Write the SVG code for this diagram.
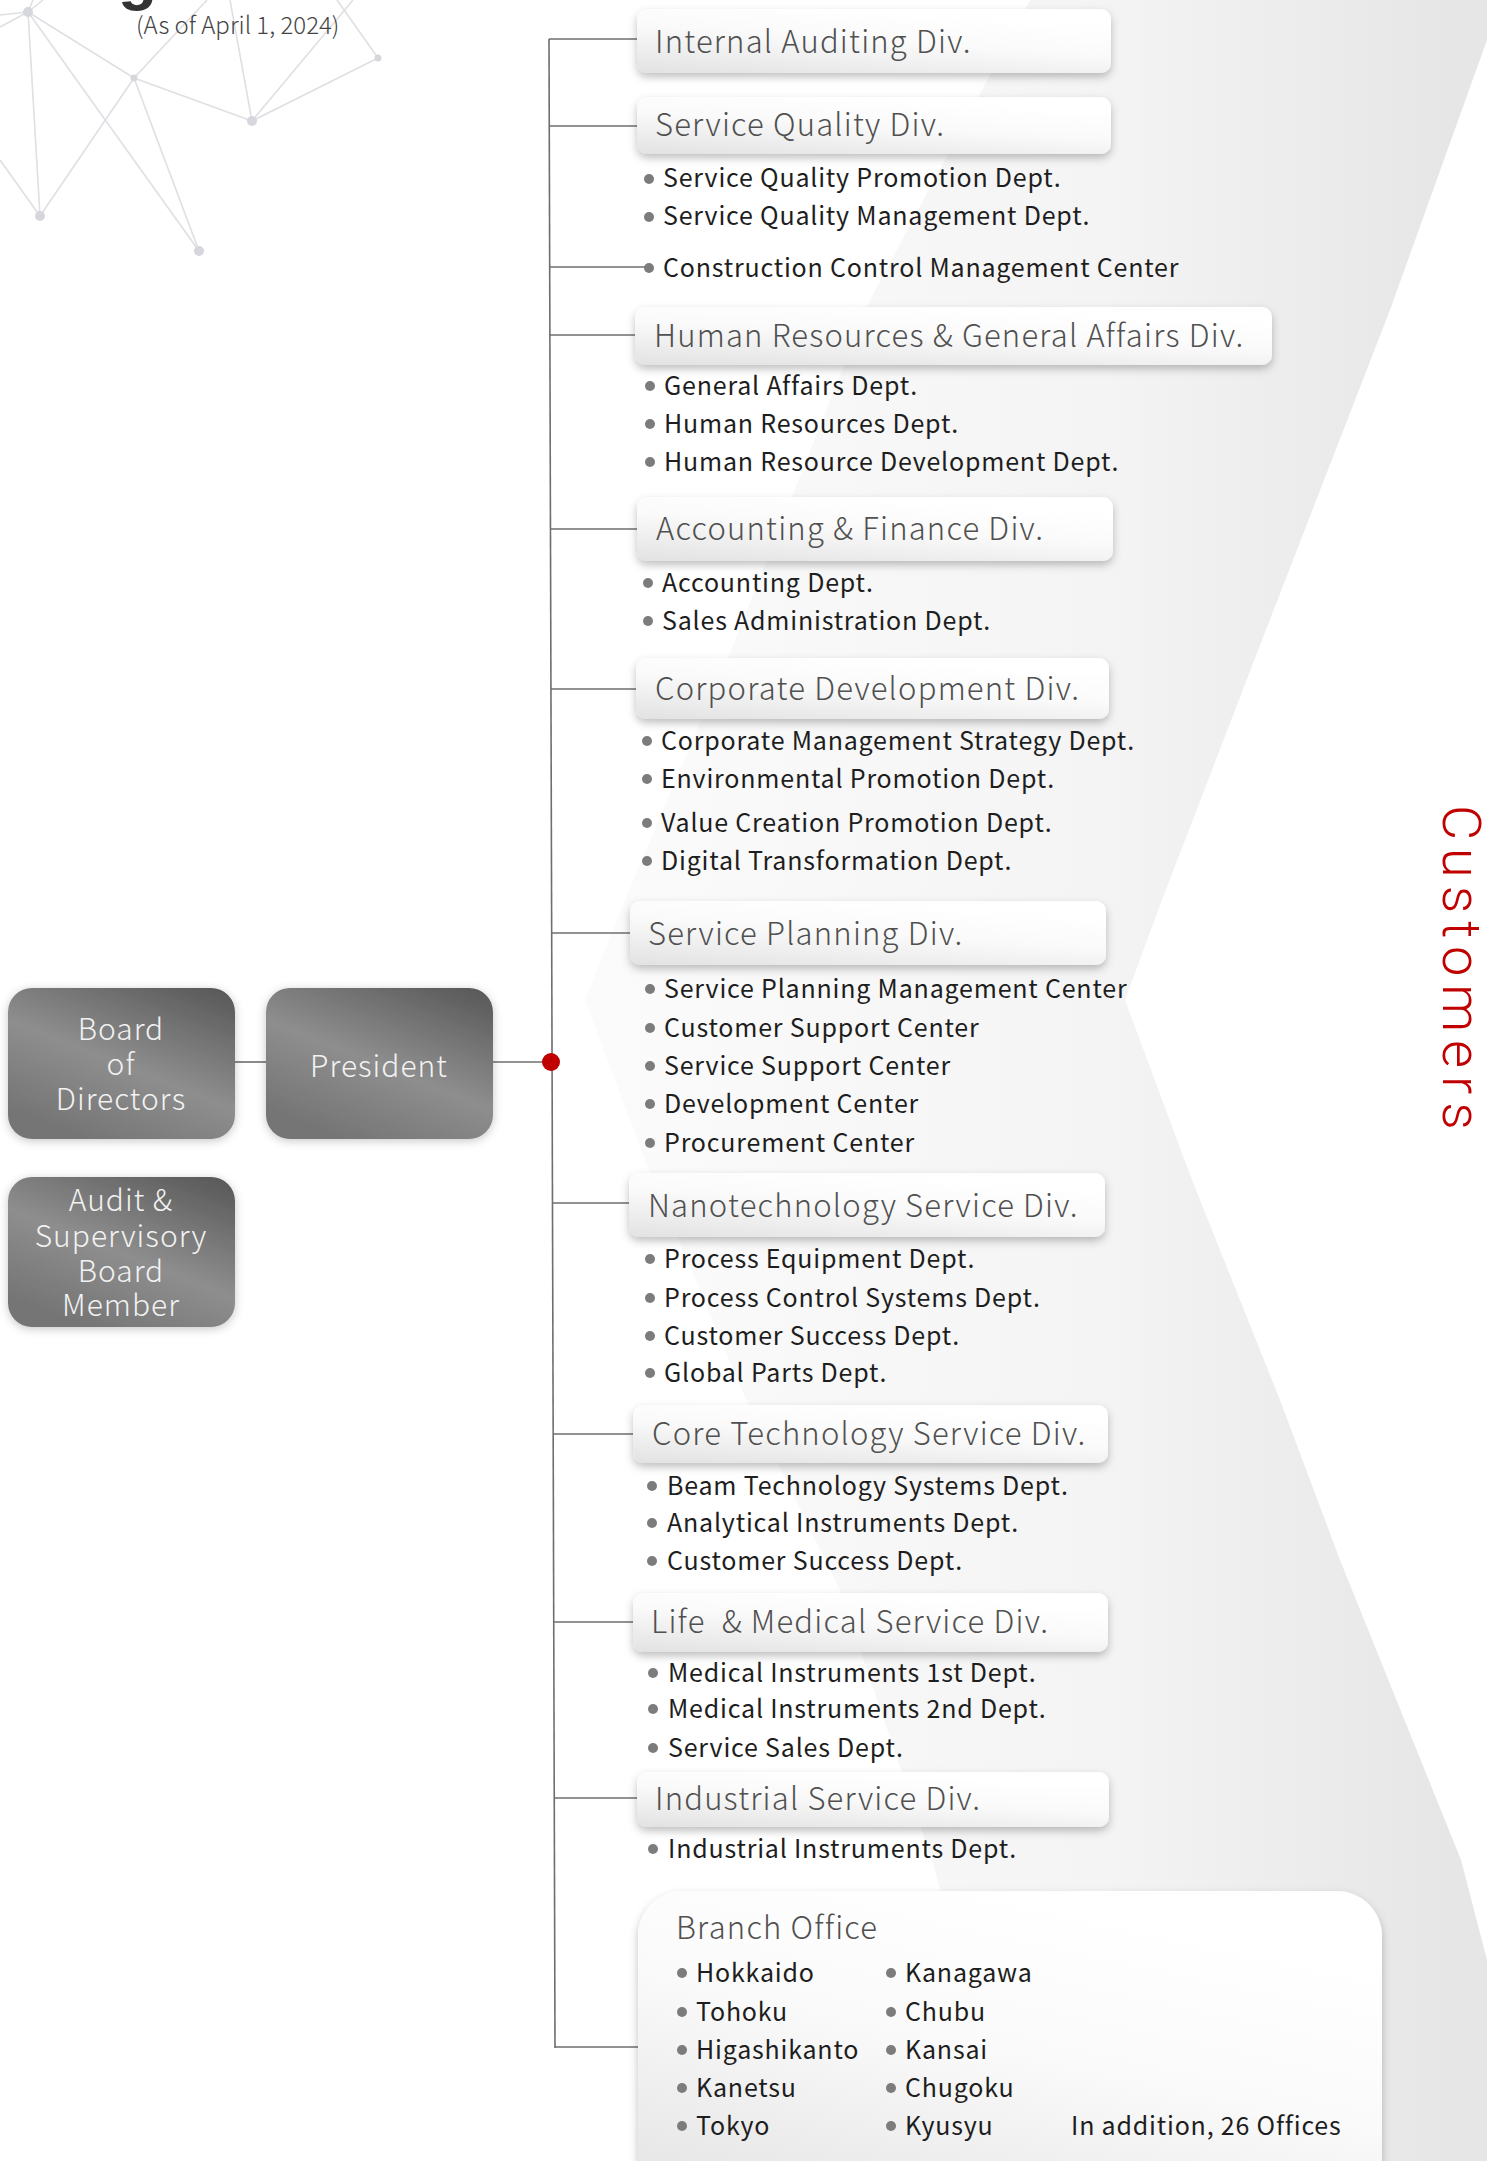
<svg xmlns="http://www.w3.org/2000/svg" width="1487" height="2161" viewBox="0 0 1487 2161">
<defs>
<linearGradient id="band" gradientUnits="userSpaceOnUse" x1="600" y1="0" x2="1450" y2="0">
<stop offset="0" stop-color="#fbfbfb"/><stop offset="0.6" stop-color="#f4f4f4"/><stop offset="1" stop-color="#e6e6e6"/>
</linearGradient>
<linearGradient id="dark" x1="0.9" y1="0" x2="0.3" y2="1">
<stop offset="0" stop-color="#5a5a5a"/><stop offset="0.55" stop-color="#8e8e8e"/><stop offset="1" stop-color="#747474"/>
</linearGradient>
<linearGradient id="light" x1="0" y1="1" x2="0.5" y2="0">
<stop offset="0" stop-color="#e2e2e2"/><stop offset="0.6" stop-color="#fafafa"/><stop offset="1" stop-color="#ffffff"/>
</linearGradient>
<filter id="glow" x="-20%" y="-20%" width="140%" height="140%">
<feDropShadow dx="0" dy="2" stdDeviation="5" flood-color="#000" flood-opacity="0.22"/>
</filter>
<filter id="shadow" x="-10%" y="-20%" width="120%" height="160%">
<feDropShadow dx="0" dy="4" stdDeviation="4" flood-color="#000" flood-opacity="0.25"/>
</filter>
</defs>
<style>
.net line{stroke:#dfe0e4;stroke-width:1.6}
.net circle{fill:#d6d7dc}
.dark{fill:url(#dark);filter:url(#glow)}
.dtxt{font-family:"Noto Sans CJK JP","Noto Sans",sans-serif;font-weight:300;font-size:30px;fill:#f2f2f2;text-anchor:middle;letter-spacing:1px}
.div{fill:url(#light);filter:url(#shadow)}
.dt{font-family:"Noto Sans CJK JP","Noto Sans",sans-serif;font-weight:300;font-size:31px;fill:#505050;letter-spacing:1.2px}
.it{font-family:"Noto Sans CJK JP","Noto Sans",sans-serif;font-weight:400;font-size:25px;fill:#1e1e1e;letter-spacing:0.8px}
.b{fill:#7c7c7c}
.conn line{stroke:#6e6e6e;stroke-width:1.6}
</style>
<rect x="0" y="0" width="1487" height="2161" fill="#ffffff"/>
<path d="M1030,0 L870,300 L735,640 L625,900 L585,1000 L645,1160 L744,1395 L840,1590 L935,1870 L1010,2161 L1487,2161 L1487,1960 L1461,1860 L1340,1560 L1280,1400 L1192,1180 L1125,1000 L1162,900 L1262,640 L1390,310 L1487,40 L1487,0 Z" fill="url(#band)"/>
<g class="net">
<line x1="28" y1="12" x2="0" y2="15"/><line x1="28" y1="12" x2="0" y2="27"/><line x1="28" y1="12" x2="33" y2="0"/><line x1="28" y1="12" x2="43" y2="0"/>
<line x1="28" y1="12" x2="40" y2="216"/><line x1="28" y1="12" x2="134" y2="78"/><line x1="28" y1="12" x2="199" y2="251"/>
<line x1="134" y1="78" x2="40" y2="216"/><line x1="134" y1="78" x2="199" y2="251"/><line x1="134" y1="78" x2="252" y2="121"/><line x1="134" y1="78" x2="207" y2="0"/>
<line x1="252" y1="121" x2="230" y2="0"/><line x1="252" y1="121" x2="353" y2="0"/><line x1="252" y1="121" x2="378" y2="58"/>
<line x1="378" y1="58" x2="337" y2="0"/><line x1="40" y1="216" x2="0" y2="160"/>
<circle cx="28" cy="12" r="5"/><circle cx="134" cy="78" r="3.5"/><circle cx="252" cy="121" r="5"/><circle cx="378" cy="58" r="3.5"/><circle cx="40" cy="216" r="5"/><circle cx="199" cy="251" r="5"/>
</g>
<text x="118" y="-2" font-family="Liberation Sans,sans-serif" font-weight="bold" font-size="64" fill="#333">g</text>
<text x="136" y="34" font-family="Noto Sans CJK JP,Noto Sans,sans-serif" font-weight="300" font-size="24" fill="#444">(As of April 1, 2024)</text>
<text transform="translate(1443,805) rotate(90)" font-family="Roboto,sans-serif" font-weight="300" font-size="54" fill="#c00000" letter-spacing="8">Customers</text>
<g class="conn" id="connectors">
<line x1="549" y1="39" x2="555" y2="2048"/>
<line x1="549" y1="39" x2="637" y2="39"/>
<line x1="549" y1="126" x2="637" y2="126"/>
<line x1="549" y1="267" x2="649" y2="267"/>
<line x1="550" y1="335" x2="635" y2="335"/>
<line x1="550" y1="529" x2="637" y2="529"/>
<line x1="551" y1="689" x2="636" y2="689"/>
<line x1="551" y1="933" x2="630" y2="933"/>
<line x1="492" y1="1062" x2="551" y2="1062"/>
<line x1="235" y1="1062" x2="266" y2="1062"/>
<line x1="553" y1="1203" x2="629" y2="1203"/>
<line x1="553" y1="1434" x2="633" y2="1434"/>
<line x1="554" y1="1622" x2="633" y2="1622"/>
<line x1="554" y1="1798" x2="637" y2="1798"/>
<line x1="555" y1="2047" x2="638" y2="2047"/>
<circle cx="551" cy="1062" r="9" fill="#c00000"/>
</g>
<g id="board"><rect class="dark" x="8" y="988" width="227" height="151" rx="24"/>
<text class="dtxt"><tspan x="121" y="1040">Board</tspan><tspan x="121" y="1075">of</tspan><tspan x="121" y="1110">Directors</tspan></text></g>
<g id="president"><rect class="dark" x="266" y="988" width="227" height="151" rx="24"/>
<text class="dtxt" x="379" y="1077">President</text></g>
<g id="audit"><rect class="dark" x="8" y="1177" width="227" height="150" rx="24"/>
<text class="dtxt"><tspan x="121" y="1211">Audit &amp;</tspan><tspan x="121" y="1247">Supervisory</tspan><tspan x="121" y="1282">Board</tspan><tspan x="121" y="1316">Member</tspan></text></g>

<g id="internal-auditing"><rect class="div" x="637" y="9" width="474" height="64" rx="10"/>
<text class="dt" x="655" y="53">Internal Auditing Div.</text></g>

<g id="service-quality"><rect class="div" x="637" y="97" width="474" height="57" rx="10"/>
<text class="dt" x="655" y="136">Service Quality Div.</text>
<circle class="b" cx="649" cy="179" r="5"/><text class="it" x="663" y="187">Service Quality Promotion Dept.</text>
<circle class="b" cx="649" cy="217" r="5"/><text class="it" x="663" y="225">Service Quality Management Dept.</text></g>

<g id="construction"><circle class="b" cx="649" cy="268" r="5"/><text class="it" x="663" y="277">Construction Control Management Center</text></g>

<g id="hr"><rect class="div" x="635" y="307" width="637" height="58" rx="10"/>
<text class="dt" x="654" y="347">Human Resources &amp; General Affairs Div.</text>
<circle class="b" cx="650" cy="386" r="5"/><text class="it" x="664" y="395">General Affairs Dept.</text>
<circle class="b" cx="650" cy="424" r="5"/><text class="it" x="664" y="433">Human Resources Dept.</text>
<circle class="b" cx="650" cy="462" r="5"/><text class="it" x="664" y="471">Human Resource Development Dept.</text></g>

<g id="accounting"><rect class="div" x="637" y="497" width="476" height="64" rx="10"/>
<text class="dt" x="656" y="540">Accounting &amp; Finance Div.</text>
<circle class="b" cx="648" cy="583" r="5"/><text class="it" x="662" y="592">Accounting Dept.</text>
<circle class="b" cx="648" cy="621" r="5"/><text class="it" x="662" y="630">Sales Administration Dept.</text></g>

<g id="corporate"><rect class="div" x="636" y="658" width="473" height="61" rx="10"/>
<text class="dt" x="655" y="700">Corporate Development Div.</text>
<circle class="b" cx="647" cy="741" r="5"/><text class="it" x="661" y="750">Corporate Management Strategy Dept.</text>
<circle class="b" cx="647" cy="779" r="5"/><text class="it" x="661" y="788">Environmental Promotion Dept.</text>
<circle class="b" cx="647" cy="823" r="5"/><text class="it" x="661" y="832">Value Creation Promotion Dept.</text>
<circle class="b" cx="647" cy="861" r="5"/><text class="it" x="661" y="870">Digital Transformation Dept.</text></g>

<g id="service-planning"><rect class="div" x="630" y="901" width="476" height="64" rx="10"/>
<text class="dt" x="648" y="945">Service Planning Div.</text>
<circle class="b" cx="650" cy="989" r="5"/><text class="it" x="664" y="998">Service Planning Management Center</text>
<circle class="b" cx="650" cy="1028" r="5"/><text class="it" x="664" y="1037">Customer Support Center</text>
<circle class="b" cx="650" cy="1066" r="5"/><text class="it" x="664" y="1075">Service Support Center</text>
<circle class="b" cx="650" cy="1104" r="5"/><text class="it" x="664" y="1113">Development Center</text>
<circle class="b" cx="650" cy="1143" r="5"/><text class="it" x="664" y="1152">Procurement Center</text></g>

<g id="nanotech"><rect class="div" x="629" y="1173" width="476" height="64" rx="10"/>
<text class="dt" x="648" y="1217">Nanotechnology Service Div.</text>
<circle class="b" cx="650" cy="1259" r="5"/><text class="it" x="664" y="1268">Process Equipment Dept.</text>
<circle class="b" cx="650" cy="1298" r="5"/><text class="it" x="664" y="1307">Process Control Systems Dept.</text>
<circle class="b" cx="650" cy="1336" r="5"/><text class="it" x="664" y="1345">Customer Success Dept.</text>
<circle class="b" cx="650" cy="1373" r="5"/><text class="it" x="664" y="1382">Global Parts Dept.</text></g>

<g id="core-tech"><rect class="div" x="633" y="1405" width="475" height="58" rx="10"/>
<text class="dt" x="652" y="1445">Core Technology Service Div.</text>
<circle class="b" cx="652" cy="1486" r="5"/><text class="it" x="667" y="1495">Beam Technology Systems Dept.</text>
<circle class="b" cx="652" cy="1523" r="5"/><text class="it" x="667" y="1532">Analytical Instruments Dept.</text>
<circle class="b" cx="652" cy="1561" r="5"/><text class="it" x="667" y="1570">Customer Success Dept.</text></g>

<g id="life-medical"><rect class="div" x="633" y="1593" width="475" height="59" rx="10"/>
<text class="dt" x="651" y="1633" xml:space="preserve">Life  &amp; Medical Service Div.</text>
<circle class="b" cx="653" cy="1673" r="5"/><text class="it" x="668" y="1682">Medical Instruments 1st Dept.</text>
<circle class="b" cx="653" cy="1709" r="5"/><text class="it" x="668" y="1718">Medical Instruments 2nd Dept.</text>
<circle class="b" cx="653" cy="1748" r="5"/><text class="it" x="668" y="1757">Service Sales Dept.</text></g>

<g id="industrial"><rect class="div" x="637" y="1772" width="472" height="55" rx="10"/>
<text class="dt" x="655" y="1810">Industrial Service Div.</text>
<circle class="b" cx="653" cy="1849" r="5"/><text class="it" x="668" y="1858">Industrial Instruments Dept.</text></g>

<g id="branch-office"><rect class="div" x="638" y="1891" width="744" height="320" rx="45"/>
<text class="dt" x="676" y="1939">Branch Office</text>
<circle class="b" cx="682" cy="1973" r="5"/><text class="it" x="696" y="1982">Hokkaido</text>
<circle class="b" cx="682" cy="2012" r="5"/><text class="it" x="696" y="2021">Tohoku</text>
<circle class="b" cx="682" cy="2050" r="5"/><text class="it" x="696" y="2059">Higashikanto</text>
<circle class="b" cx="682" cy="2088" r="5"/><text class="it" x="696" y="2097">Kanetsu</text>
<circle class="b" cx="682" cy="2126" r="5"/><text class="it" x="696" y="2135">Tokyo</text>
<circle class="b" cx="891" cy="1973" r="5"/><text class="it" x="905" y="1982">Kanagawa</text>
<circle class="b" cx="891" cy="2012" r="5"/><text class="it" x="905" y="2021">Chubu</text>
<circle class="b" cx="891" cy="2050" r="5"/><text class="it" x="905" y="2059">Kansai</text>
<circle class="b" cx="891" cy="2088" r="5"/><text class="it" x="905" y="2097">Chugoku</text>
<circle class="b" cx="891" cy="2126" r="5"/><text class="it" x="905" y="2135">Kyusyu</text>
<text class="it" x="1071" y="2135">In addition, 26 Offices</text></g>
</svg>
